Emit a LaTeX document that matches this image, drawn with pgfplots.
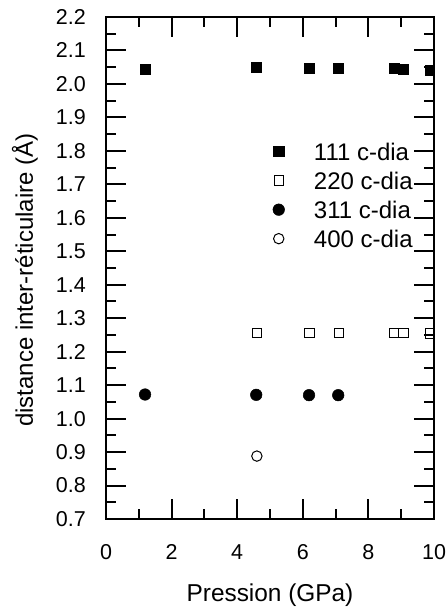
\documentclass[border=0pt]{standalone}
\usepackage{pgfplots}
\pgfplotsset{compat=1.18}
\usepackage{fontspec}
\setmainfont{Liberation Sans}
\begin{document}
\begin{tikzpicture}
\begin{axis}[
  scale only axis,
  width=328bp, height=502bp,
  xmin=0, xmax=10, ymin=0.7, ymax=2.2,
  xtick={0,2,4,6,8,10},
  minor x tick num=1,
  ytick={0.7,0.8,0.9,1.0,1.1,1.2,1.3,1.4,1.5,1.6,1.7,1.8,1.9,2.0,2.1,2.2},
  minor y tick num=1,
  tick align=inside,
  major tick length=20bp,
  minor tick length=10bp,
  axis line style={line width=2bp},
  every tick/.style={black, line width=2bp},
  /pgf/number format/assume math mode=true,
  yticklabel style={/pgf/number format/fixed, /pgf/number format/fixed zerofill, /pgf/number format/precision=1, inner sep=0pt, anchor=east, xshift=-20bp},
  xticklabel style={inner sep=0pt, anchor=center, yshift=-33bp},
  ticklabel style={font=\fontsize{21.5bp}{25bp}\selectfont},
  xlabel={Pression (GPa)},
  ylabel={distance inter-réticulaire (Å)},
  every axis x label/.style={at={(axis description cs:0.5,-0.151)}, anchor=center, font=\fontsize{24.4bp}{28bp}\selectfont},
  every axis y label/.style={at={(axis description cs:-0.247,0.476)}, anchor=center, rotate=90, font=\fontsize{24bp}{28bp}\selectfont},
  clip marker paths=true,
  axis on top,
  legend image code/.code={\path (-8bp,-8.6bp) (8bp,8.6bp); \draw[#1] plot coordinates {(0bp,0bp)};},
  legend style={draw=none, fill=none, at={(axis description cs:0.935,0.7606)}, anchor=north east,
    inner sep=0pt, outer sep=0pt, row sep=0pt,
    font=\fontsize{24bp}{28bp}\selectfont,
    nodes={inner sep=0pt, text height=23.1bp, text depth=5.9bp},
    /tikz/every odd column/.style={column sep=27bp}},
  legend cell align=left,
]
\addplot[only marks, mark=square*, mark size=5bp, black, mark options={fill=black, line width=0.5bp}]
coordinates {(1.2,2.043) (4.59,2.049) (6.19,2.046) (7.09,2.046) (8.79,2.047) (9.07,2.044) (9.88,2.042)};
\addlegendentry{111 c-dia}
\addplot[only marks, mark=square, mark size=4.7bp, black, mark options={fill=white, line width=1bp}]
coordinates {(4.6,1.255) (6.2,1.255) (7.1,1.255) (8.78,1.255) (9.07,1.255) (9.87,1.254)};
\addlegendentry{220 c-dia}
\addplot[only marks, mark=*, mark size=5.8bp, black, mark options={fill=black, line width=0.5bp}]
coordinates {(1.19,1.072) (4.58,1.071) (6.19,1.070) (7.08,1.070)};
\addlegendentry{311 c-dia}
\addplot[only marks, mark=o, mark size=5.2bp, black, mark options={line width=1bp}]
coordinates {(4.6,0.888)};
\addlegendentry{400 c-dia}
\end{axis}
\pgfresetboundingbox
\path (-106bp,-91bp) rectangle (341bp,519bp);
\end{tikzpicture}
\end{document}
